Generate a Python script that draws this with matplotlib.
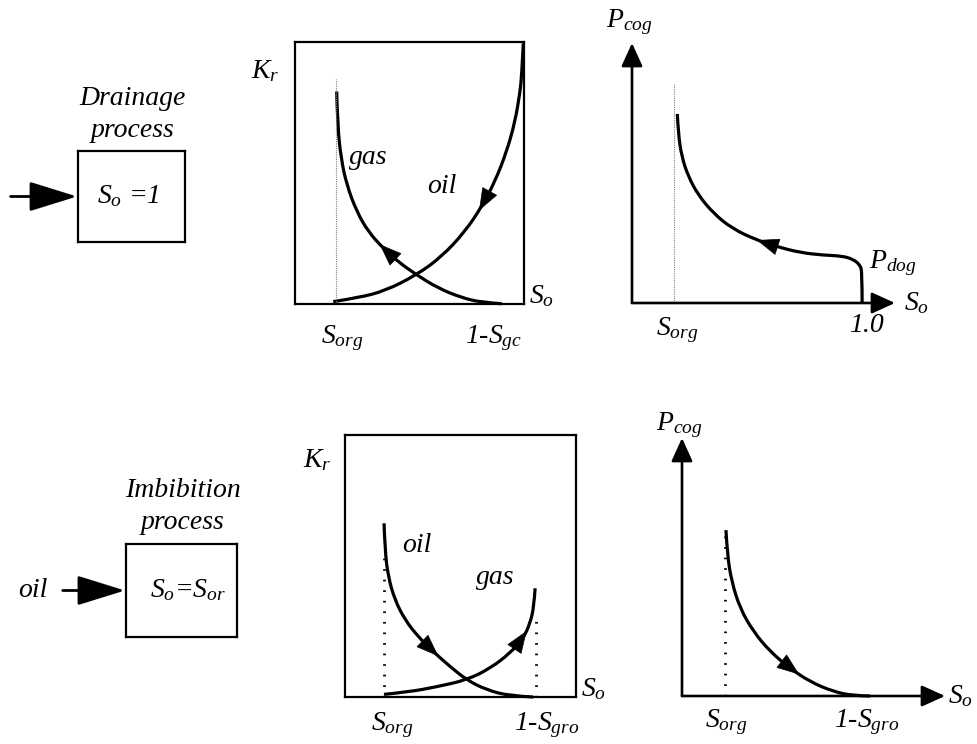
import numpy as np
import matplotlib.pyplot as plt
from matplotlib.path import Path
from matplotlib.patches import PathPatch

plt.rcParams['font.family'] = ['Liberation Serif', 'DejaVu Serif']
plt.rcParams['font.style'] = 'italic'
plt.rcParams['mathtext.fontset'] = 'custom'
plt.rcParams['mathtext.it'] = 'Liberation Serif:italic'
plt.rcParams['mathtext.rm'] = 'Liberation Serif:italic'
plt.rcParams['mathtext.default'] = 'it'

# ---- curves, normalised to each panel
# (x = S_o across the frame, y = Kr or Pc up the frame)
drain_gas_x = [0.182, 0.186, 0.201, 0.226, 0.270, 0.320, 0.386, 0.451, 0.531, 0.626, 0.728, 0.815, 0.903]
drain_gas_y = [0.811, 0.683, 0.556, 0.454, 0.352, 0.276, 0.212, 0.161, 0.111, 0.060, 0.024, 0.006, 0.001]
drain_oil_x = [0.167, 0.277, 0.393, 0.531, 0.641, 0.742, 0.815, 0.873, 0.924, 0.961, 0.983, 0.990, 0.997]
drain_oil_y = [0.009, 0.024, 0.050, 0.111, 0.181, 0.276, 0.371, 0.467, 0.581, 0.696, 0.811, 0.874, 0.995]
drain_pc_x = [0.197, 0.201, 0.216, 0.245, 0.288, 0.354, 0.434, 0.542, 0.629, 0.730, 0.832, 0.912, 0.962, 0.991, 1.0, 1.0]
drain_pc_y = [0.727, 0.653, 0.563, 0.486, 0.415, 0.345, 0.287, 0.242, 0.217, 0.194, 0.184, 0.181, 0.168, 0.146, 0.120, 0.0]

imb_oil_x = [0.169, 0.173, 0.187, 0.216, 0.260, 0.317, 0.382, 0.455, 0.527, 0.613, 0.714, 0.815]
imb_oil_y = [0.663, 0.561, 0.459, 0.370, 0.294, 0.230, 0.173, 0.116, 0.065, 0.027, 0.004, 0.0]
imb_gas_x = [0.169, 0.281, 0.397, 0.527, 0.628, 0.714, 0.772, 0.801, 0.818, 0.823]
imb_gas_y = [0.010, 0.020, 0.039, 0.065, 0.109, 0.167, 0.224, 0.281, 0.345, 0.415]
imb_pc_x = [0.191, 0.197, 0.216, 0.252, 0.310, 0.383, 0.470, 0.557, 0.658, 0.745, 0.817]
imb_pc_y = [0.643, 0.547, 0.443, 0.340, 0.250, 0.172, 0.107, 0.055, 0.017, 0.001, 0.0]

# residual saturation markers (x, top of the dotted line)
drain_kr_sorg = (0.180, 0.86)
drain_pc_sorg = (0.183, 0.846)
imb_kr_sorg = (0.169, 0.553)
imb_kr_sgro = (0.825, 0.32)
imb_pc_sorg = (0.187, 0.651)

W, H = 977, 744
LW = 2.3
FS = 20


def place(left, top, w, h):
    return fig.add_axes([left / W, 1 - (top + h) / H, w / W, h / H])


def bare(ax, frame=False):
    ax.set_xticks([])
    ax.set_yticks([])
    for s in ax.spines.values():
        s.set_visible(frame)
        s.set_linewidth(1.6)


def smooth(xs, ys):
    # quadratic spline through the read points, so the drawn line has no corners
    pts = np.column_stack([xs, ys])
    verts, codes = [pts[0]], [Path.MOVETO]
    for i in range(1, len(pts) - 1):
        end = pts[-1] if i == len(pts) - 2 else (pts[i] + pts[i + 1]) / 2
        verts += [pts[i], end]
        codes += [Path.CURVE3, Path.CURVE3]
    return Path(verts, codes)


def flow_curve(ax, xs, ys, t, step):
    # draw a curve and put an arrow head at fractional index t, pointing along step
    ax.add_patch(PathPatch(smooth(xs, ys), fill=False, lw=LW, ec='black',
                           capstyle='butt', clip_on=False))
    idx = np.arange(len(xs))
    tip = (np.interp(t, idx, xs), np.interp(t, idx, ys))
    tail = (np.interp(t - step, idx, xs), np.interp(t - step, idx, ys))
    ax.annotate('', xy=tip, xytext=tail,
                arrowprops=dict(arrowstyle='-|>,head_length=1.0,head_width=0.38',
                                mutation_scale=15, color='black', lw=0.5,
                                shrinkA=0, shrinkB=0))


def axis_arrows(ax, xmax):
    kw = dict(arrowstyle='-|>,head_length=1.1,head_width=0.5', mutation_scale=13,
              color='black', lw=1.9, shrinkA=0, shrinkB=0)
    ax.annotate('', xy=(0, 1.0), xytext=(0, 0), arrowprops=kw, annotation_clip=False)
    ax.annotate('', xy=(xmax, 0), xytext=(0, 0), arrowprops=kw, annotation_clip=False)


def process_box(ax, title, inside, lead=None):
    bare(ax, frame=True)
    ax.set_xlim(0, 1)
    ax.set_ylim(0, 1)
    ax.text(0.51, 1.58, title[0], ha='center', va='center', fontsize=FS)
    ax.text(0.51, 1.23, title[1], ha='center', va='center', fontsize=FS)
    ax.text(inside[1], 0.5, inside[0], ha='center', va='center', fontsize=FS)
    ax.annotate('', xy=(-0.01, 0.5), xytext=(lead[0], 0.5),
                arrowprops=dict(arrowstyle='-|>,head_length=1.35,head_width=0.42',
                                mutation_scale=22, color='black', lw=2,
                                shrinkA=0, shrinkB=0),
                annotation_clip=False)
    if lead[1]:
        ax.text(lead[2], 0.5, lead[1], ha='center', va='center', fontsize=FS)


fig = plt.figure(figsize=(9.77, 7.44), dpi=100)

# ---------------- drainage row
ax = place(78, 151, 107, 91)
process_box(ax, ('Drainage', 'process'), (r'$S_o$ =1', 0.47), (-0.63, None, 0))

ax = place(295, 42, 229, 262)
bare(ax, frame=True)
ax.set_xlim(0, 1)
ax.set_ylim(0, 1)
ax.plot([drain_kr_sorg[0]] * 2, [0, drain_kr_sorg[1]], color='gray', lw=0.8, ls=(0, (1, 1)))
flow_curve(ax, drain_gas_x, drain_gas_y, 5.75, -1)
flow_curve(ax, drain_oil_x, drain_oil_y, 5.85, -1)
ax.text(0.32, 0.56, 'gas', ha='center', va='center', fontsize=FS)
ax.text(0.64, 0.45, 'oil', ha='center', va='center', fontsize=FS)
ax.text(-0.13, 0.89, r'$K_r$', ha='center', va='center', fontsize=FS)
ax.text(1.02, 0.03, r'$S_o$', ha='left', va='center', fontsize=FS)
ax.text(0.205, -0.13, r'$S_{org}$', ha='center', va='center', fontsize=FS)
ax.text(0.865, -0.13, r'1-$S_{gc}$', ha='center', va='center', fontsize=FS)

ax = place(632, 43, 263, 260)
bare(ax)
ax.set_xlim(0, 1.143)
ax.set_ylim(0, 1)
axis_arrows(ax, 1.143)
ax.plot([drain_pc_sorg[0]] * 2, [0, drain_pc_sorg[1]], color='gray', lw=0.8, ls=(0, (1, 1)))
flow_curve(ax, drain_pc_x, drain_pc_y, 7, -1)
ax.text(-0.01, 1.08, r'$P_{cog}$', ha='center', va='center', fontsize=FS)
ax.text(1.18, 0.0, r'$S_o$', ha='left', va='center', fontsize=FS)
ax.text(1.02, -0.085, '1.0', ha='center', va='center', fontsize=FS)
ax.text(0.196, -0.105, r'$S_{org}$', ha='center', va='center', fontsize=FS)
ax.text(1.03, 0.155, r'$P_{dog}$', ha='left', va='center', fontsize=FS)

# ---------------- imbibition row
ax = place(126, 544, 111, 93)
process_box(ax, ('Imbibition', 'process'), (r'$S_o$=$S_{or}$', 0.56), (-0.57, 'oil', -0.84))

ax = place(345, 435, 231, 262)
bare(ax, frame=True)
ax.set_xlim(0, 1)
ax.set_ylim(0, 1)
for sx, top in (imb_kr_sorg, imb_kr_sgro):
    ax.plot([sx, sx], [0, top], color='black', lw=2, ls=(0, (0.6, 3.2)))
flow_curve(ax, imb_oil_x, imb_oil_y, 6.3, 1)
flow_curve(ax, imb_gas_x, imb_gas_y, 6.5, 1)
ax.text(0.31, 0.58, 'oil', ha='center', va='center', fontsize=FS)
ax.text(0.65, 0.455, 'gas', ha='center', va='center', fontsize=FS)
ax.text(-0.12, 0.905, r'$K_r$', ha='center', va='center', fontsize=FS)
ax.text(1.02, 0.03, r'$S_o$', ha='left', va='center', fontsize=FS)
ax.text(0.203, -0.107, r'$S_{org}$', ha='center', va='center', fontsize=FS)
ax.text(0.874, -0.107, r'1-$S_{gro}$', ha='center', va='center', fontsize=FS)

ax = place(682, 438, 263, 258)
bare(ax)
ax.set_xlim(0, 1.143)
ax.set_ylim(0, 1)
axis_arrows(ax, 1.143)
ax.plot([imb_pc_sorg[0]] * 2, [0, imb_pc_sorg[1]], color='black', lw=2, ls=(0, (0.6, 3.2)))
flow_curve(ax, imb_pc_x, imb_pc_y, 6.45, 1)
ax.text(-0.01, 1.05, r'$P_{cog}$', ha='center', va='center', fontsize=FS)
ax.text(1.155, 0.0, r'$S_o$', ha='left', va='center', fontsize=FS)
ax.text(0.194, -0.10, r'$S_{org}$', ha='center', va='center', fontsize=FS)
ax.text(0.803, -0.10, r'1-$S_{gro}$', ha='center', va='center', fontsize=FS)

fig.savefig('out.png', dpi=100)
